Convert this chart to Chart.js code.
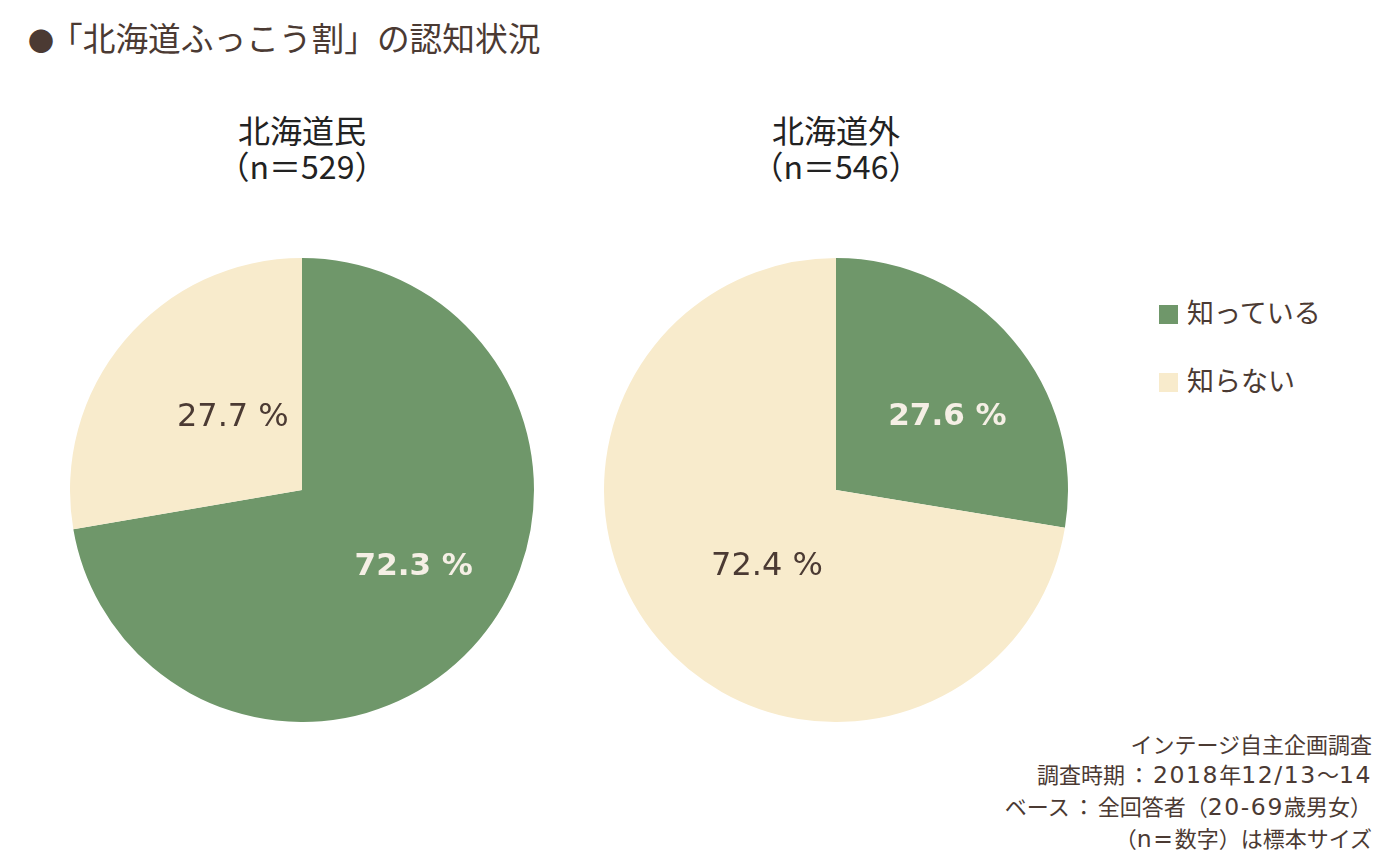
<!DOCTYPE html>
<html>
<head>
<meta charset="utf-8">
<script src="https://cdn.jsdelivr.net/npm/chart.js@4.4.1/dist/chart.umd.min.js"></script>
<style>
body { margin: 0; background: #fff; width: 1389px; height: 865px; position: relative; overflow: hidden;
  font-family: "Noto Sans CJK JP", "Noto Sans", sans-serif; color: #4b3a33; }
.abs { position: absolute; }
#title { left: 28px; top: 14px; font-size: 32.7px; line-height: 46px; white-space: nowrap; }
#title .dot { font-size: 26px; margin-right: -4px; }
.sub { width: 400px; text-align: center; font-size: 32px; line-height: 36px; color: #222; }
.legend-row { left: 1159px; font-size: 27px; line-height: 34px; white-space: nowrap; }
.legend-row span.box { display: inline-block; width: 19px; height: 19px; margin-right: 9px; vertical-align: -1px; }
#note { right: 17px; top: 728px; text-align: right; font-size: 22px; line-height: 30px; white-space: nowrap; }
#note .lat { font-family: "DejaVu Sans", sans-serif; font-size: 23.5px; letter-spacing: 1.6px; }
#note .col { margin: 0 3px; }
</style>
</head>
<body>
<div id="title" class="abs"><span class="dot">●</span>「北海道ふっこう割」の認知状況</div>
<div id="sub0" class="abs sub" style="left:102px; top:111px;"></div>
<div id="sub1" class="abs sub" style="left:636px; top:111px;"></div>
<canvas id="chart0" class="abs" style="left:70px; top:258px;"></canvas>
<canvas id="chart1" class="abs" style="left:604px; top:258px;"></canvas>
<div id="legend"></div>
<div id="note" class="abs"></div>
<script>
var categories = ['知っている', '知らない'];
var groups = ['北海道民', '北海道外'];
var sampleSizes = [529, 546];
var insideValues = [72.3, 27.7];   // 北海道民
var outsideValues = [27.6, 72.4];  // 北海道外
var colors = ['#6f976a', '#f8ebcc'];
var notes = ['インテージ自主企画調査', '調査時期：2018年12/13～14', 'ベース：全回答者（20-69歳男女）', '（n=数字）は標本サイズ'];

var seriesList = [insideValues, outsideValues];

// subtitles
for (var g = 0; g < groups.length; g++) {
	document.getElementById('sub' + g).innerHTML = groups[g] + '<br>（n＝' + sampleSizes[g] + '）';
}

// legend
var legendTop = [295, 363];
var legendHtml = '';
for (var i = 0; i < categories.length; i++) {
	legendHtml += '<div class="abs legend-row" style="top:' + legendTop[i] + 'px;"><span class="box" style="background:' + colors[i] + '"></span>' + categories[i] + '</div>';
}
document.getElementById('legend').innerHTML = legendHtml;

// footnote: latin runs set a bit wider, like the original
var noteHtml = notes.map(function(line) {
	return line.replace(/[0-9n=\/\-]+/g, function(m) { return '<span class="lat">' + m + '</span>'; })
		.replace(/：/g, '<span class="col">：</span>');
});
document.getElementById('note').innerHTML = noteHtml.join('<br>');

// labels inside slices, placed on an ellipse along the slice's mid angle
var labelRadiusX = [0.63, 0.39];
var labelRadiusY = [0.50, 0.50];
var sliceLabels = {
	id: 'sliceLabels',
	afterDatasetsDraw: function(chart) {
		var c = chart.ctx;
		var meta = chart.getDatasetMeta(0);
		var data = chart.data.datasets[0].data;
		meta.data.forEach(function(arc, i) {
			var p = arc.getProps(['x', 'y', 'startAngle', 'endAngle', 'outerRadius'], true);
			var mid = (p.startAngle + p.endAngle) / 2;
			var x = p.x + Math.cos(mid) * p.outerRadius * labelRadiusX[i];
			var y = p.y + Math.sin(mid) * p.outerRadius * labelRadiusY[i];
			c.save();
			if (i == 0) {
				c.font = 'bold 31px "DejaVu Sans"';
				c.fillStyle = '#f5efe5';
			} else {
				c.font = '32px "DejaVu Sans"';
				c.fillStyle = '#4b3a33';
			}
			c.textAlign = 'center';
			c.textBaseline = 'middle';
			c.fillText(data[i].toFixed(1) + ' %', x, y + 2);
			c.restore();
		});
	}
};

var charts = [];
for (var k = 0; k < seriesList.length; k++) {
	var cv = document.getElementById('chart' + k);
	cv.width = 464; cv.height = 464;
	charts.push(new Chart(cv, {
		type: 'pie',
		data: {
			labels: categories,
			datasets: [{
				data: seriesList[k],
				backgroundColor: colors,
				borderWidth: 0
			}]
		},
		options: {
			responsive: false,
			animation: false,
			layout: { padding: 0 },
			plugins: {
				legend: { display: false },
				tooltip: { enabled: false }
			}
		},
		plugins: [sliceLabels]
	}));
}
</script>
</body>
</html>
